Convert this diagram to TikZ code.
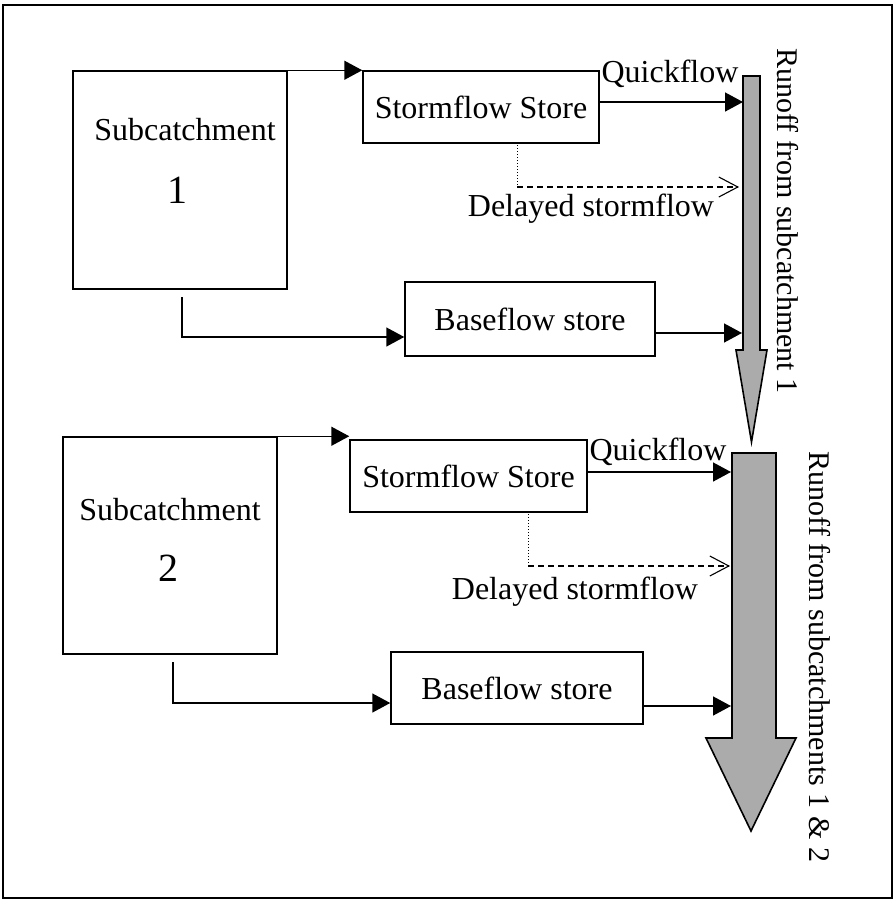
\documentclass[tikz,border=0pt]{standalone}
\usepackage{fontspec}
\setmainfont{Liberation Serif}
\usetikzlibrary{arrows.meta}
\begin{document}
\begin{tikzpicture}[x=1pt,y=-1pt,
  line width=1.5pt,
  box/.style={draw, line width=1.5pt, inner sep=0pt},
  txt/.style={font=\fontsize{32}{38}\selectfont, inner sep=0pt},
  rtxt/.style={font=\fontsize{30}{36}\selectfont, inner sep=0pt, rotate=-90},
  big/.style={font=\fontsize{40}{46}\selectfont, inner sep=0pt},
  flow/.style={-{Triangle[length=18pt,width=19pt]}},
  delayed/.style={dash pattern=on 6pt off 4pt, -{Straight Barb[length=19pt,width=20pt]}},
  runoff/.style={draw, line width=1.6pt, fill=black!33, line join=miter}]
\useasboundingbox (0,0) rectangle (896,908);
\draw[line width=1.8pt] (3,5) rectangle (892,898);

% ---------- group 1 ----------
\node[box, minimum width=214pt, minimum height=218pt] (sub1) at (180,180) {};
\node[txt] (sub1t) at (185,130) {Subcatchment};
\node[big] (sub1n) at (177,190) {1};
\node[box, minimum width=236pt, minimum height=72pt] (storm1) at (481,107) {};
\node[txt] at (storm1.center) {Stormflow Store};
\node[box, minimum width=250pt, minimum height=74pt] (base1) at (530,319) {};
\node[txt] at (base1.center) {Baseflow store};

\draw[runoff] (743,76) -- (760,76) -- (760,350) -- (767,350) -- (751.5,442)
  -- (736,350) -- (743,350) -- cycle;
\coordinate (b1q) at (743,102);
\coordinate (b1d) at (739,187);
\coordinate (b1b) at (742,333);

\draw[flow] (sub1.north east) -- (storm1.north west);
\draw[flow] (storm1.east |- b1q) -- (b1q);
\coordinate (d1a) at (517,145);
\coordinate (d1b) at (517,187);
\draw[dotted, line width=1pt] (d1a) -- (d1b);
\draw[delayed, line width=1.1pt] (d1b) -- (b1d);
\coordinate (s1a) at (182,297);
\coordinate (s1b) at (182,337);
\draw[flow] (s1a) -- (s1b) -- (base1.west |- s1b);
\draw[flow] (base1.east |- b1b) -- (b1b);

\node[txt] (q1) at (670,74) {Quickflow};
\node[txt] (d1) at (591,209) {Delayed stormflow};
\node[rtxt] (r1) at (788,221) {Runoff from subcatchment 1};

% ---------- group 2 ----------
\node[box, minimum width=214pt, minimum height=217pt] (sub2) at (170,545.5) {};
\node[txt] (sub2t) at (170,510) {Subcatchment};
\node[big] (sub2n) at (168,568) {2};
\node[box, minimum width=237pt, minimum height=72pt] (storm2) at (468.5,476) {};
\node[txt] at (storm2.center) {Stormflow Store};
\node[box, minimum width=252pt, minimum height=72pt] (base2) at (517,688) {};
\node[txt] at (base2.center) {Baseflow store};

\draw[runoff] (732,453) -- (776,453) -- (776,738) -- (796,738) -- (751,831)
  -- (706,738) -- (732,738) -- cycle;
\coordinate (b2q) at (731,472);
\coordinate (b2d) at (730,566);
\coordinate (b2b) at (731,706);

\draw[flow] (sub2.north east) -- (sub2.north east -| storm2.west);
\draw[flow] (storm2.east |- b2q) -- (b2q);
\coordinate (d2a) at (528,514);
\coordinate (d2b) at (528,566);
\draw[dotted, line width=1pt] (d2a) -- (d2b);
\draw[delayed, line width=1.1pt] (d2b) -- (b2d);
\coordinate (s2a) at (173,662);
\coordinate (s2b) at (173,703);
\draw[flow] (s2a) -- (s2b) -- (base2.west |- s2b);
\draw[flow] (base2.east |- b2b) -- (b2b);

\node[txt] (q2) at (658,452) {Quickflow};
\node[txt] (d2) at (575,592) {Delayed stormflow};
\node[rtxt] (r2) at (820,657) {Runoff from subcatchments 1 \& 2};
\end{tikzpicture}
\end{document}
